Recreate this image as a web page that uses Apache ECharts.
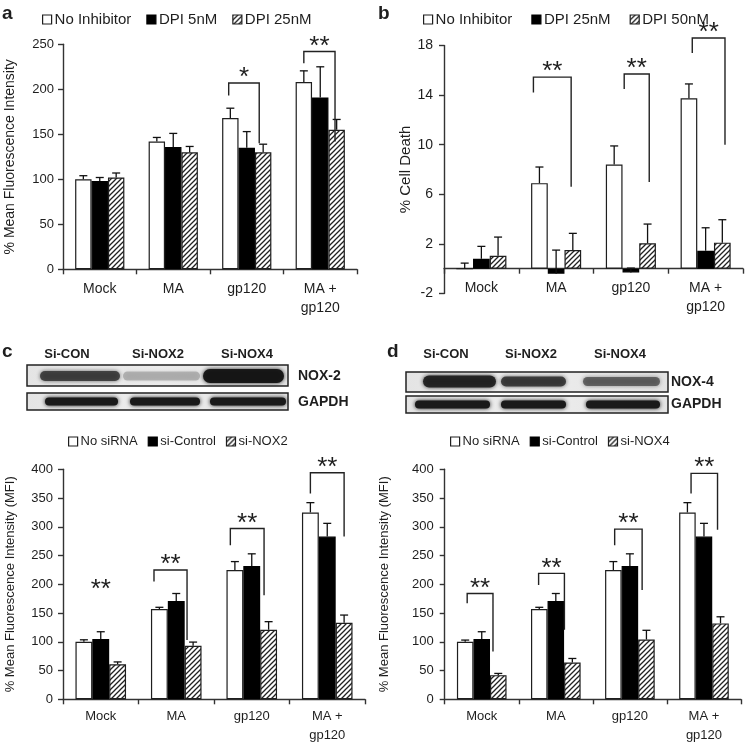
<!DOCTYPE html>
<html><head><meta charset="utf-8">
<script src="https://cdn.jsdelivr.net/npm/echarts@6/dist/echarts.min.js"></script>
<style>html,body{margin:0;padding:0;background:#fff}#chart{width:746px;height:742px}</style>
</head><body><div id="chart"></div>
<script>
// ---------------- DATA ----------------
const categories = ['Mock', 'MA', 'gp120', 'MA +\ngp120'];

// Panel a : % Mean Fluorescence Intensity
const aNames = ['No Inhibitor', 'DPI 5nM', 'DPI 25nM'];
const aNoInh = [100, 142, 168, 208];
const aNoInhErr = [4, 4.5, 11, 12.5];
const aDpi5 = [98, 136, 135, 191];
const aDpi5Err = [4, 15, 18, 34];
const aDpi25 = [102, 130, 130, 155];
const aDpi25Err = [5, 6.5, 9, 11.5];
// significance: [category, fromBar, toBar, bracketTop, leftLegEnd, rightLegEnd]
const aBrackets = [[2, -0.1, 1.76, 207, 193, 140], [3, 0, 1.9, 242, 229, 142]];
const aStars = ['*', '**'];

// Panel b : % Cell Death
const bNames = ['No Inhibitor', 'DPI 25nM', 'DPI 50nM'];
const bNoInh = [0, 6.9, 8.4, 13.75];
const bNoInhErr = [0.45, 1.3, 1.5, 1.15];
const bDpi25 = [0.8, -0.4, -0.3, 1.45];
const bDpi25Err = [1.0, 1.9, 0.35, 1.85];
const bDpi50 = [1.05, 1.5, 2.05, 2.1];
const bDpi50Err = [1.5, 1.35, 1.55, 1.85];
const bTicks = [-2, 2, 6, 10, 14, 18];
const bBrackets = [[1, -0.36, 1.9, 15.45, 14.2, 6.6], [2, 0.6, 2.1, 15.7, 14.5, 7.0], [3, 0.2, 2.16, 18.6, 17.4, 10.0]];
const bStars = ['**', '**', '**'];

// Panel c : siRNA NOX2
const cNames = ['No siRNA', 'si-Control', 'si-NOX2'];
const cNoSi = [100, 157, 225, 325];
const cNoSiErr = [3.5, 3, 14.5, 17];
const cCtrl = [105, 171, 232, 283];
const cCtrlErr = [12.5, 13, 21, 23];
const cNox2 = [61, 93, 121, 133];
const cNox2Err = [4, 6.5, 14, 13.5];
const cBrackets = [[0, 1, 1, 181, null, null], [1, -0.32, 1.64, 225, 205, 103], [2, -0.27, 1.73, 297, 268, 181], [3, 0, 2.0, 394, 358, 283]];
const cStars = ['**', '**', '**', '**'];

// Panel d : siRNA NOX4
const dNames = ['No siRNA', 'si-Control', 'si-NOX4'];
const dNoSi = [100, 157, 225, 325];
const dNoSiErr = [3, 3, 14.5, 17];
const dCtrl = [105, 171, 232, 283];
const dCtrlErr = [12.5, 13, 21, 23];
const dNox4 = [42, 64, 104, 132];
const dNox4Err = [3, 7, 16, 11.5];
const dBrackets = [[0, 0.12, 1.68, 184, 167, 83], [1, -0.04, 1.52, 219, 199, 121], [2, 0.08, 1.74, 296, 268, 190], [3, 0.22, 1.82, 393, 358, 295]];
const dStars = ['**', '**', '**', '**'];

// ---------------- STYLE ----------------
const FONT = '"Liberation Sans", Arial, Helvetica, sans-serif';
const INK = '#1e1e1e';
const GAP = 0.33;

function hatchPattern() {
  const s = 5;
  const cv = document.createElement('canvas');
  cv.width = s; cv.height = s;
  const ctx = cv.getContext('2d');
  ctx.fillStyle = '#fff'; ctx.fillRect(0, 0, s, s);
  ctx.strokeStyle = '#222'; ctx.lineWidth = 1.3;
  ctx.beginPath();
  ctx.moveTo(-1, s + 1); ctx.lineTo(s + 1, -1);
  ctx.moveTo(-1, 1); ctx.lineTo(1, -1);
  ctx.moveTo(s - 1, s + 1); ctx.lineTo(s + 1, s - 1);
  ctx.stroke();
  return cv;
}
const HATCH = { image: hatchPattern(), repeat: 'repeat' };
const ST_WHITE = { color: '#fff', borderColor: INK, borderWidth: 1.2 };
const ST_BLACK = { color: '#000', borderColor: '#000', borderWidth: 1.2 };
const ST_HATCH = { color: HATCH, borderColor: INK, borderWidth: 1.2 };

const panels = [
  { names: aNames, values: [aNoInh, aDpi5, aDpi25], errs: [aNoInhErr, aDpi5Err, aDpi25Err], styles: [ST_WHITE, ST_BLACK, ST_HATCH],
    brackets: aBrackets, stars: aStars, min: 0, max: 250, interval: 50, ticks: null, yName: '% Mean Fluorescence Intensity',
    grid: { left: 63, top: 44.3, width: 294, height: 225 }, tickFont: 13, catFont: 14, nameFont: 14, nameGap: 46, labelMargin: 9, catMargin: 10,
    legend: { left: 37, top: 7, font: 15, gap: 15 } },
  { names: bNames, values: [bNoInh, bDpi25, bDpi50], errs: [bNoInhErr, bDpi25Err, bDpi50Err], styles: [ST_WHITE, ST_BLACK, ST_HATCH],
    brackets: bBrackets, stars: bStars, min: -2, max: 18, interval: 4, ticks: bTicks, yName: '% Cell Death',
    grid: { left: 444, top: 45.5, width: 299, height: 248 }, tickFont: 14, catFont: 14, nameFont: 15, nameGap: 31, labelMargin: 11, catMargin: -14.5,
    legend: { left: 418, top: 7, font: 15, gap: 19 } },
  { names: cNames, values: [cNoSi, cCtrl, cNox2], errs: [cNoSiErr, cCtrlErr, cNox2Err], styles: [ST_WHITE, ST_BLACK, ST_HATCH],
    brackets: cBrackets, stars: cStars, min: 0, max: 400, interval: 50, ticks: null, yName: '% Mean Fluorescence Intensity (MFI)',
    grid: { left: 63, top: 469.3, width: 302, height: 230 }, tickFont: 13, catFont: 13, nameFont: 13, nameGap: 46, labelMargin: 10, catMargin: 8,
    legend: { left: 63, top: 430, font: 13, gap: 10 } },
  { names: dNames, values: [dNoSi, dCtrl, dNox4], errs: [dNoSiErr, dCtrlErr, dNox4Err], styles: [ST_WHITE, ST_BLACK, ST_HATCH],
    brackets: dBrackets, stars: dStars, min: 0, max: 400, interval: 50, ticks: null, yName: '% Mean Fluorescence Intensity (MFI)',
    grid: { left: 444.7, top: 469.3, width: 296.3, height: 230 }, tickFont: 13, catFont: 13, nameFont: 13, nameGap: 54, labelMargin: 11, catMargin: 8,
    legend: { left: 445, top: 430, font: 13, gap: 10 } }
];

function errRender(params, api) {
  const cat = api.value(0), val = api.value(1), err = api.value(2), bi = api.value(3);
  const band = api.size([1, 0])[0];
  const bw = band * (1 - GAP) / 3;
  const c = api.coord([cat, val]);
  const x = c[0] - 1.5 * bw + (bi + 0.5) * bw;
  const top = api.coord([cat, val + err])[1];
  const cap = 4;
  const st = { stroke: '#111', lineWidth: 1.3 };
  return { type: 'group', children: [
    { type: 'line', shape: { x1: x, y1: c[1], x2: x, y2: top }, style: st },
    { type: 'line', shape: { x1: x - cap, y1: top, x2: x + cap, y2: top }, style: st }
  ] };
}

function bracketRender(list, stars) {
  return function (params, api) {
    const b = list[params.dataIndex];
    const band = api.size([1, 0])[0];
    const bw = band * (1 - GAP) / 3;
    const cx = api.coord([b[0], 0])[0];
    const x0 = cx - 1.5 * bw;
    const xL = x0 + (b[1] + 0.5) * bw, xR = x0 + (b[2] + 0.5) * bw;
    const yT = api.coord([b[0], b[3]])[1];
    const st = { stroke: '#222', lineWidth: 1.4, fill: null };
    const children = [];
    if (b[4] != null) {
      const yL = api.coord([b[0], b[4]])[1];
      const yR = api.coord([b[0], b[5]])[1];
      children.push({ type: 'polyline', shape: { points: [[xL, yL], [xL, yT], [xR, yT], [xR, yR]] }, style: st });
    }
    children.push({ type: 'text', x: (xL + xR) / 2, y: yT - 5,
      style: { text: stars[params.dataIndex], fontSize: 26, fontFamily: FONT, fill: INK, align: 'center', verticalAlign: 'middle' } });
    return { type: 'group', children: children };
  };
}

const grids = [], xAxes = [], yAxes = [], legends = [], series = [];
panels.forEach((p, i) => {
  grids.push(Object.assign({ containLabel: false, outerBoundsMode: 'none' }, p.grid));
  xAxes.push({
    type: 'category', gridIndex: i, data: categories,
    axisLine: { show: true, onZero: true, lineStyle: { color: '#333', width: 1.4 } },
    axisTick: { show: true, length: 5, lineStyle: { color: '#333', width: 1.4 } },
    axisLabel: { fontSize: p.catFont, color: INK, fontFamily: FONT, margin: p.catMargin, lineHeight: 19, interval: 0 },
    splitLine: { show: false }
  });
  const yAxis = {
    type: 'value', gridIndex: i, min: p.min, max: p.max, interval: p.interval,
    name: p.yName, nameLocation: 'middle', nameGap: p.nameGap,
    nameTextStyle: { fontSize: p.nameFont, color: INK, fontFamily: FONT },
    axisLine: { show: true, lineStyle: { color: '#333', width: 1.4 } },
    axisTick: { show: true, length: 5, lineStyle: { color: '#333', width: 1.4 } },
    axisLabel: { fontSize: p.tickFont, color: INK, fontFamily: FONT, margin: p.labelMargin },
    splitLine: { show: false }
  };
  if (p.ticks) {
    yAxis.axisLabel.customValues = p.ticks;
    yAxis.axisTick.customValues = p.ticks;
  }
  yAxes.push(yAxis);
  legends.push({
    left: p.legend.left, top: p.legend.top, orient: 'horizontal', selectedMode: false,
    itemWidth: 9, itemHeight: 9, itemGap: p.legend.gap, icon: 'rect',
    textStyle: { fontSize: p.legend.font, color: INK, fontFamily: FONT, padding: [0, 0, 0, -2] },
    data: p.names.map((n, k) => ({ name: n, icon: 'rect', itemStyle: p.styles[k] }))
  });
  p.names.forEach((n, k) => {
    series.push({
      type: 'bar', name: n, xAxisIndex: i, yAxisIndex: i, data: p.values[k],
      itemStyle: p.styles[k], barGap: '0%', barCategoryGap: (GAP * 100) + '%', z: 2,
      emphasis: { disabled: true }
    });
  });
  const errData = [];
  p.values.forEach((vals, k) => vals.forEach((v, c) => errData.push([c, v, p.errs[k][c], k])));
  series.push({ type: 'custom', xAxisIndex: i, yAxisIndex: i, data: errData, renderItem: errRender,
    encode: { x: 0, y: 1 }, z: 3, silent: true });
  series.push({ type: 'custom', xAxisIndex: i, yAxisIndex: i, data: p.brackets.map(b => [b[0], b[3]]),
    renderItem: bracketRender(p.brackets, p.stars), encode: { x: 0, y: 1 }, z: 4, silent: true });
});

// ---------------- Western blot images (decoration) ----------------
function txt(x, y, s, size, bold, align) {
  return { type: 'text', x: x, y: y, style: { text: s, fontSize: size, fontWeight: bold ? 'bold' : 'normal',
    fontFamily: FONT, fill: INK, align: align || 'left', verticalAlign: 'middle' } };
}
function box(x, y, w, h) {
  return { type: 'rect', shape: { x: x, y: y, width: w, height: h },
    style: { fill: { type: 'linear', x: 0, y: 0, x2: 1, y2: 0, colorStops: [{ offset: 0, color: '#e4e4e4' }, { offset: 0.5, color: '#ededed' }, { offset: 1, color: '#e2e2e2' }] },
      stroke: '#222', lineWidth: 1.5 } };
}
function band(x1, x2, cy, h, color) {
  return { type: 'rect', shape: { x: x1, y: cy - h / 2, width: x2 - x1, height: h, r: h / 2 },
    style: { fill: color, shadowBlur: 4, shadowColor: color } };
}
const graphics = [
  txt(2, 14, 'a', 19, true), txt(378, 14, 'b', 19, true), txt(2, 352, 'c', 19, true), txt(387, 352, 'd', 19, true),
  // c blot
  txt(67, 354, 'Si-CON', 13, true, 'center'), txt(158, 354, 'Si-NOX2', 13, true, 'center'), txt(247, 354, 'Si-NOX4', 13, true, 'center'),
  box(27, 365, 261, 21),
  band(40, 120, 376, 10, 'rgba(50,50,50,0.85)'), band(123, 200, 376, 9, 'rgba(120,120,120,0.45)'), band(203, 284, 376, 14, 'rgba(20,20,20,0.95)'),
  box(27, 393, 261, 17),
  band(45, 118, 401.5, 8, '#1a1a1a'), band(130, 200, 401.5, 8, '#1a1a1a'), band(210, 286, 401.5, 8, '#1a1a1a'),
  txt(298, 376, 'NOX-2', 14, true), txt(298, 402, 'GAPDH', 14, true),
  // d blot
  txt(446, 354, 'Si-CON', 13, true, 'center'), txt(531, 354, 'Si-NOX2', 13, true, 'center'), txt(620, 354, 'Si-NOX4', 13, true, 'center'),
  box(406, 372, 262, 20),
  band(423, 496, 381.5, 12, 'rgba(30,30,30,0.92)'), band(501, 566, 381.5, 10, 'rgba(45,45,45,0.85)'), band(583, 660, 381.5, 9, 'rgba(70,70,70,0.75)'),
  box(406, 396, 262, 17),
  band(415, 490, 404.5, 8, '#1a1a1a'), band(501, 566, 404.5, 8, '#1a1a1a'), band(586, 660, 404.5, 8, '#1a1a1a'),
  txt(671, 382, 'NOX-4', 14, true), txt(671, 404, 'GAPDH', 14, true)
];

const chart = echarts.init(document.getElementById('chart'), null, { renderer: 'canvas' });
chart.setOption({
  animation: false,
  backgroundColor: '#fff',
  textStyle: { fontFamily: FONT, color: INK },
  grid: grids, xAxis: xAxes, yAxis: yAxes, legend: legends, series: series,
  graphic: graphics
});
</script>
</body></html>
